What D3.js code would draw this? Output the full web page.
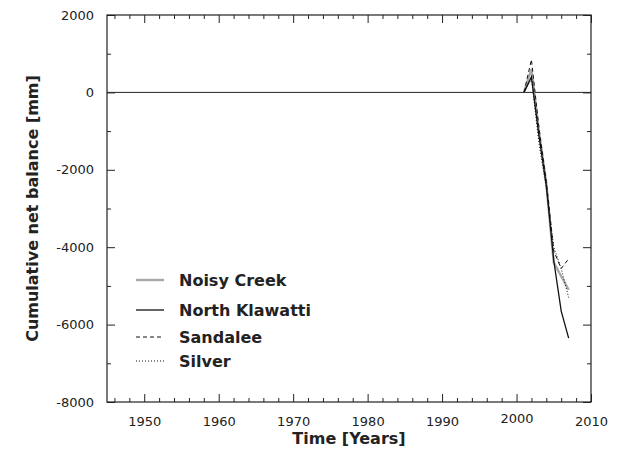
<!DOCTYPE html>
<html>
<head>
<meta charset="utf-8">
<script src="https://cdn.jsdelivr.net/npm/d3@7"></script>
<style>
  html, body { margin: 0; padding: 0; background: #fff; }
  svg { display: block; font-family: "DejaVu Sans", sans-serif; }
</style>
</head>
<body>
<div id="chart"></div>
<script>
'use strict';

// values (mm, cumulative)
const years = [2001, 2002, 2003, 2004, 2005, 2006, 2007];
const noisyCreek    = [0, 600, -1000, -2350, -4400, -4750, -5100];
const northKlawatti = [0, 400, -1100, -2400, -4350, -5650, -6350];
const sandalee      = [0, 850,  -900, -2300, -4100, -4550, -4300];
const silver        = [0, 350, -1300, -2500, -4000, -4550, -5300];

const seriesNames = ['Noisy Creek', 'North Klawatti', 'Sandalee', 'Silver'];
const seriesValues = [noisyCreek, northKlawatti, sandalee, silver];

const xTicks = [1950, 1960, 1970, 1980, 1990, 2000, 2010];
const yTicks = [-8000, -6000, -4000, -2000, 0, 2000];

const styles = [
  { stroke: '#a8a8a8', width: 2.4, dash: null },
  { stroke: '#111', width: 1.3, dash: null },
  { stroke: '#111', width: 1, dash: '4,3' },
  { stroke: '#111', width: 1, dash: '1,2' }
];

const width = 622, height = 462;
const margin = { top: 15, right: 31, bottom: 60, left: 107 };
const w = width - margin.left - margin.right;
const h = height - margin.top - margin.bottom;

const x = d3.scaleLinear().domain([1945, 2010]).range([0, w]);
const y = d3.scaleLinear().domain([-8000, 2000]).range([h, 0]);

const svg = d3.select('#chart').append('svg')
  .attr('width', width).attr('height', height);
const g = svg.append('g')
  .attr('transform', `translate(${margin.left}, ${margin.top})`);

const minorX = d3.range(1946, 2010, 2).filter(d => d % 10 != 0);
const minorY = d3.range(-7000, 2000, 2000);
const plain = d => String(d); // hyphen minus like the original

// inward ticks on all four sides
const addAxis = (axis, tr, labels) => {
  const a = g.append('g').attr('transform', tr).call(axis);
  a.select('.domain').remove();
  a.selectAll('line').attr('stroke', '#222');
  if (!labels) a.selectAll('text').remove();
  return a;
};

const bottom = addAxis(d3.axisBottom(x).tickValues(xTicks).tickFormat(plain)
  .tickSize(-8).tickPadding(15), `translate(0, ${h})`, true);
bottom.selectAll('text').attr('font-size', 13).attr('fill', '#222')
  .attr('font-family', '"DejaVu Sans", sans-serif')
  .attr('y', d => d == 2000 ? 12 : 15);
addAxis(d3.axisBottom(x).tickValues(minorX).tickSize(-4), `translate(0, ${h})`);
addAxis(d3.axisTop(x).tickValues(xTicks).tickSize(-8), 'translate(0, 0)');
addAxis(d3.axisTop(x).tickValues(minorX).tickSize(-4), 'translate(0, 0)');

const left = addAxis(d3.axisLeft(y).tickValues(yTicks).tickFormat(plain)
  .tickSize(-8).tickPadding(13), 'translate(0, 0)', true);
left.selectAll('text').attr('font-size', 13).attr('fill', '#222')
  .attr('font-family', '"DejaVu Sans", sans-serif');
addAxis(d3.axisLeft(y).tickValues(minorY).tickSize(-4), 'translate(0, 0)');
addAxis(d3.axisRight(y).tickValues(yTicks).tickSize(-8), `translate(${w}, 0)`);
addAxis(d3.axisRight(y).tickValues(minorY).tickSize(-4), `translate(${w}, 0)`);

// frame
g.append('rect')
  .attr('width', w).attr('height', h)
  .attr('fill', 'none').attr('stroke', '#222').attr('stroke-width', 1.2);

// zero line
g.append('line')
  .attr('x1', 0).attr('x2', w)
  .attr('y1', y(0)).attr('y2', y(0))
  .attr('stroke', '#222').attr('stroke-width', 1);

const line = d3.line()
  .x((d, i) => x(years[i]))
  .y(d => y(d));

g.selectAll('.series')
  .data(seriesValues)
  .enter().append('path')
  .attr('class', 'series')
  .attr('d', d => line(d))
  .attr('fill', 'none')
  .attr('stroke', (d, i) => styles[i].stroke)
  .attr('stroke-width', (d, i) => styles[i].width)
  .attr('stroke-dasharray', (d, i) => styles[i].dash);

// legend
const legendY = [265, 295, 322, 346];
const legend = g.selectAll('.legend')
  .data(seriesNames)
  .enter().append('g')
  .attr('class', 'legend')
  .attr('transform', (d, i) => `translate(29, ${legendY[i]})`);

legend.append('line')
  .attr('x1', 0).attr('x2', 28)
  .attr('stroke', (d, i) => styles[i].stroke)
  .attr('stroke-width', (d, i) => styles[i].width)
  .attr('stroke-dasharray', (d, i) => styles[i].dash);

legend.append('text')
  .attr('x', 43).attr('dy', '0.36em')
  .attr('font-size', 16).attr('font-weight', 'bold').attr('fill', '#222')
  .text(d => d);

// axis titles
svg.append('text')
  .attr('x', margin.left + w / 2).attr('y', 444)
  .attr('text-anchor', 'middle')
  .attr('font-size', 16).attr('font-weight', 'bold').attr('fill', '#222')
  .text('Time [Years]');

svg.append('text')
  .attr('transform', `translate(38, ${margin.top + h / 2}) rotate(-90)`)
  .attr('text-anchor', 'middle')
  .attr('font-size', 16).attr('font-weight', 'bold').attr('fill', '#222')
  .text('Cumulative net balance [mm]');
</script>
</body>
</html>
